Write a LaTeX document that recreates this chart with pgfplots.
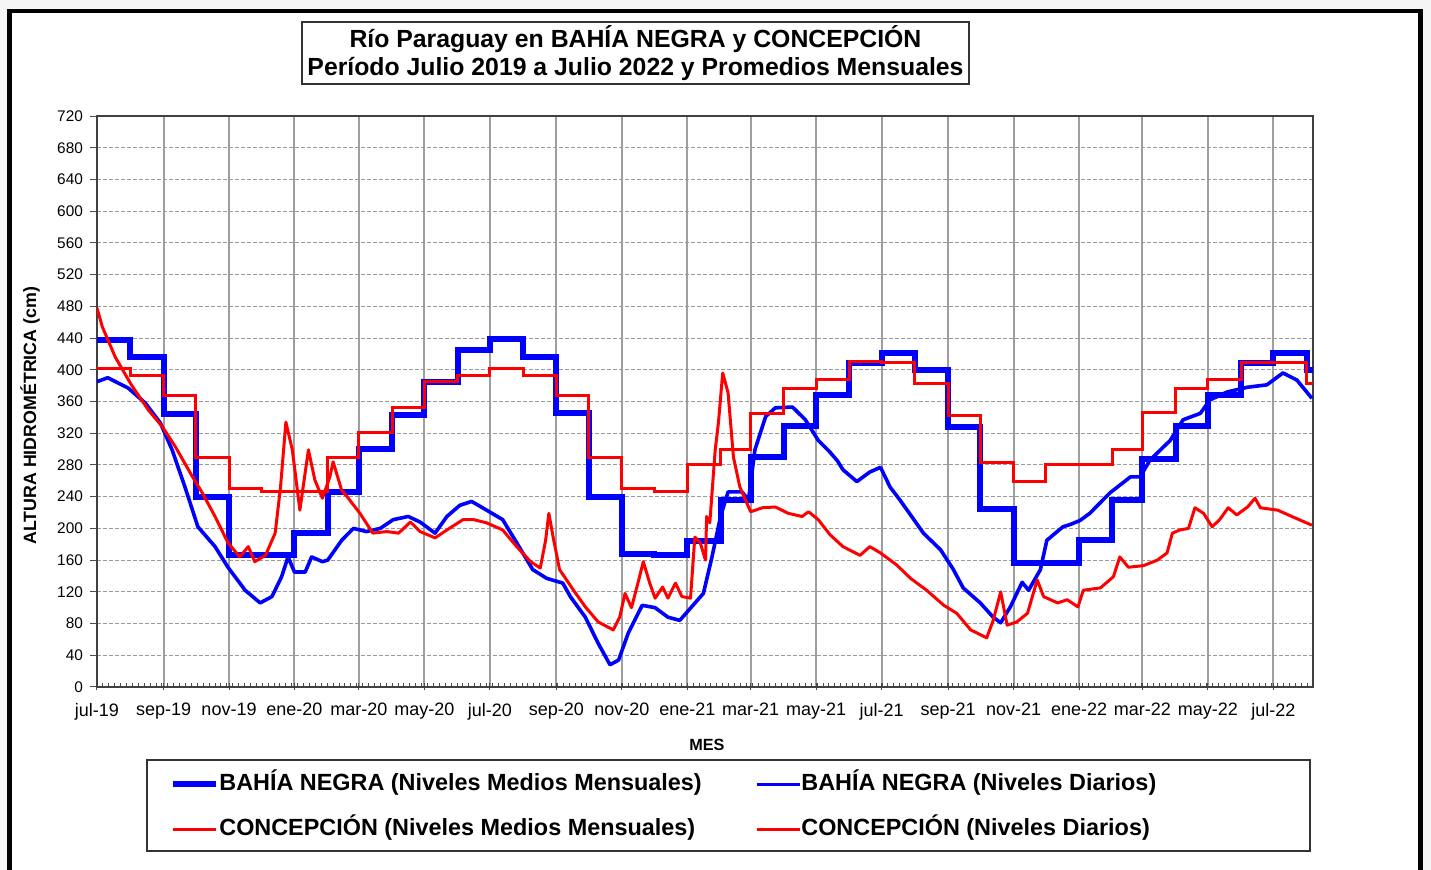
\documentclass[border=0pt]{standalone}
\usepackage{pgfplots}
\pgfplotsset{compat=1.18}
\usepackage{fontspec}
\setmainfont{Liberation Sans}
\definecolor{bnblue}{RGB}{0,0,255}
\definecolor{conred}{RGB}{255,0,0}

% x = days since 1 jul 2019, y = cm
\begin{document}
\begin{tikzpicture}
\useasboundingbox (-48.5pt,-91.5pt) rectangle (667pt,343.5pt);
\fill[black!4] (-48.5pt,-91.5pt) rectangle (667pt,343.5pt);
\fill[white] (-43.75pt,-91.5pt) rectangle (661.75pt,338pt);
\draw[line width=2.3pt] (-43.75pt,-95pt) -- (-43.75pt,338pt) -- (661.75pt,338pt) -- (661.75pt,-95pt);

\begin{axis}[
  at={(0,0)}, anchor=south west,
  scale only axis, width=608pt, height=285.5pt,
  xmin=0, xmax=1133, ymin=0, ymax=720,
  xtick={0,62,123,184,244,305,366,428,489,550,609,670,731,793,854,915,974,1035,1096},
  xticklabels={jul-19,sep-19,nov-19,ene-20,mar-20,may-20,jul-20,sep-20,nov-20,ene-21,mar-21,may-21,jul-21,sep-21,nov-21,ene-22,mar-22,may-22,jul-22},
  minor xtick={0,5.5,...,1133},
  ytick={0,40,...,720},
  tick pos=left, tick align=outside,
  major tick length=3.5pt, minor tick length=2pt,
  major x tick style={yshift=1.75pt},
  minor x tick style={yshift=2pt},
  tick style={black!70, line width=0.5pt},
  axis line style={black!75, line width=0.7pt},
  xmajorgrids, ymajorgrids,
  x grid style={black!38, line width=1pt},
  y grid style={black!40, line width=0.5pt, dash pattern=on 2pt off 1pt},
  /pgf/number format/assume math mode=true,
  xticklabel style={font=\fontsize{9}{10}\selectfont, yshift=-1pt},
  yticklabel style={font=\fontsize{7.7}{9}\selectfont},
  xlabel={MES},
  xlabel style={font=\bfseries\fontsize{8.1}{9}\selectfont, at={(axis description cs:0.5016,-0.1016)}, anchor=center},
  ylabel={ALTURA HIDROMÉTRICA (cm)},
  ylabel style={font=\bfseries\fontsize{8.9}{10}\selectfont, at={(axis description cs:-0.0551,0.475)}, anchor=center},
  legend columns=2,
  legend cell align=left,
  legend image code/.code={\draw[#1] (0pt,0pt) -- (21.5pt,0pt);},
  legend style={draw=none, fill=none, at={(axis description cs:0.0600,-0.1489)}, anchor=north west,
    inner sep=0pt, row sep=10.5pt,
    nodes={inner sep=0pt, text height=9pt, text depth=3pt, font=\bfseries\fontsize{11.7}{13}\selectfont},
    /tikz/every even column/.append style={column sep=26.5pt}},
]
% Bahia Negra, niveles medios mensuales
\addplot[const plot, bnblue, line width=3pt] coordinates {
(0,438) (31,416) (62,344) (92,240) (123,167) (153,166) (184,194) (215,246)
(244,300) (275,343) (305,385) (336,425) (366,439) (397,416) (428,345) (458,240)
(489,168) (519,166) (550,184) (581,236) (609,290) (640,329) (670,368) (701,409)
(731,421) (762,400) (793,328) (823,225) (854,156) (884,156) (915,185) (946,236)
(974,287) (1005,329) (1035,368) (1066,408) (1096,421) (1127,400) (1133,400)
};
\addlegendentry{BAHÍA NEGRA (Niveles Medios Mensuales)}
% Bahia Negra, niveles diarios
\addplot[bnblue, line width=1.8pt, line join=round] coordinates {
(0,385) (10,390) (29,377) (45,358) (59,333) (70,299) (82,252) (94,202)
(110,177) (122,151) (138,122) (152,106) (163,114) (172,139) (178,164) (184,145)
(194,145) (200,164) (210,158) (215,160) (228,185) (239,200) (251,196) (264,200)
(276,211) (290,215) (301,208) (315,194) (326,215) (338,229) (349,234) (363,223)
(378,211) (391,182) (406,148) (419,137) (434,131) (441,114) (455,88) (467,55)
(478,28) (486,34) (495,68) (508,103) (520,100) (532,88) (543,84) (554,101)
(565,118) (573,164) (581,215) (588,246) (601,246) (607,236) (613,299) (623,341)
(632,352) (648,353) (660,337) (672,311) (683,296) (690,285) (695,274) (708,259)
(720,271) (730,277) (739,252) (748,236) (758,217) (770,194) (786,173) (798,148)
(807,125) (823,106) (835,88) (842,81) (851,101) (862,132) (868,122) (879,148)
(885,185) (900,202) (907,205) (916,210) (925,219) (944,245) (963,265) (972,265)
(981,286) (1000,311) (1012,337) (1028,345) (1037,362) (1053,372) (1072,378) (1090,381)
(1105,396) (1118,387) (1132,364)
};
\addlegendentry{BAHÍA NEGRA (Niveles Diarios)}
% Concepcion, niveles medios mensuales
\addplot[const plot, conred, line width=1.5pt] coordinates {
(0,402) (31,393) (62,368) (92,289) (123,250) (153,246) (184,247) (215,289)
(244,321) (275,353) (305,385) (336,393) (366,402) (397,393) (428,368) (458,289)
(489,250) (519,246) (550,281) (581,299) (609,345) (640,377) (670,388) (701,410)
(731,409) (762,383) (793,342) (823,283) (854,259) (884,280) (915,281) (946,299)
(974,346) (1005,377) (1035,388) (1066,409) (1096,409) (1127,383) (1133,383)
};
\addlegendentry{CONCEPCIÓN (Niveles Medios Mensuales)}
% Concepcion, niveles diarios
\addplot[conred, line width=1.5pt, line join=round] coordinates {
(0,478) (5,454) (17,416) (32,381) (48,349) (61,328) (73,303) (89,265)
(98,245) (110,215) (122,182) (133,164) (141,177) (147,158) (157,166) (166,194)
(171,252) (176,334) (182,299) (189,223) (197,299) (203,261) (210,238) (217,265)
(220,284) (228,248) (233,240) (245,219) (257,194) (270,196) (281,194) (292,208)
(301,196) (315,188) (326,198) (341,211) (351,211) (363,207) (378,198) (391,177)
(404,158) (413,150) (418,185) (421,219) (425,189) (431,148) (444,122) (455,101)
(467,82) (481,72) (487,88) (492,118) (498,100) (504,131) (509,158) (515,131)
(520,112) (527,126) (532,112) (539,131) (545,114) (553,112) (557,189) (562,182)
(567,160) (568,215) (571,207) (576,299) (579,333) (583,396) (588,371) (593,290)
(599,252) (609,221) (620,226) (632,227) (644,219) (657,215) (663,221) (672,211)
(683,192) (695,177) (711,166) (720,177) (730,169) (745,154) (758,137) (773,122)
(789,103) (801,93) (814,72) (829,62) (835,84) (842,120) (848,78) (857,82)
(867,93) (876,135) (882,114) (895,106) (904,110) (914,101) (919,122) (935,125)
(947,139) (953,164) (961,151) (975,153) (988,160) (997,169) (1002,194) (1009,198)
(1017,200) (1023,226) (1031,219) (1039,202) (1046,211) (1054,226) (1062,217) (1072,227)
(1079,238) (1084,226) (1100,223) (1115,214) (1132,204)
};
\addlegendentry{CONCEPCIÓN (Niveles Diarios)}
\end{axis}

% title and legend frames
\node[draw=black!80, line width=0.6pt, fill=white, align=center, inner sep=0pt,
  minimum width=333.5pt, minimum height=31pt,
  font=\bfseries\fontsize{12.4}{14}\selectfont] at (269.25pt,317pt)
  {Río Paraguay en BAHÍA NEGRA y CONCEPCIÓN\\Período Julio 2019 a Julio 2022 y Promedios Mensuales};
\draw[black!80, line width=0.6pt] (25pt,-36.5pt) rectangle (606.5pt,-82pt);
\end{tikzpicture}
\end{document}
